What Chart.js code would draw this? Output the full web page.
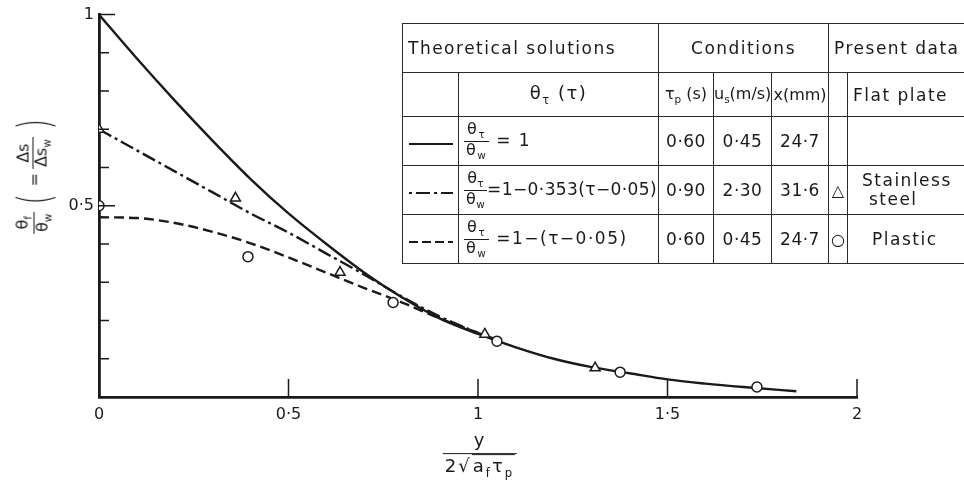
<!doctype html>
<html>

<head>
	<title>Flat plate temperature profile</title>
	<script src="https://cdn.jsdelivr.net/npm/chart.js@4.4.1/dist/chart.umd.min.js"></script>
	<style>
	body {
		margin: 0;
		background: #fff;
		font-family: "DejaVu Sans", sans-serif;
		color: #1a1a1a;
	}
	.wrap {
		position: relative;
		width: 964px;
		height: 489px;
		overflow: hidden;
	}
	canvas {
		position: absolute;
		left: 0;
		top: 0;
	}
	.frac {
		display: inline-flex;
		flex-direction: column;
		align-items: stretch;
		vertical-align: middle;
		line-height: 1.05;
		text-align: center;
	}
	.frac .num {
		border-bottom: 1.5px solid #1a1a1a;
		padding: 0 2px;
	}
	.frac .den {
		padding: 0 2px;
	}
	sub {
		font-size: 0.65em;
	}
	table.key {
		position: absolute;
		left: 402px;
		top: 23px;
		width: 620px;
		table-layout: fixed;
		border-collapse: collapse;
		font-size: 17px;
		letter-spacing: 1.5px;
	}
	table.key td {
		border: 1.5px solid #2a2a2a;
		padding: 0 2px;
		text-align: center;
		white-space: nowrap;
		overflow: hidden;
	}
	table.key td.left {
		text-align: left;
		padding-left: 5px;
	}
	table.key td.tight {
		letter-spacing: 0;
		padding: 0;
		font-size: 16px;
	}
	table.key td.num {
		font-size: 17px;
		letter-spacing: 0.5px;
	}
	table.key .fsm {
		font-size: 15px;
	}
	table.key .eq {
		font-size: 16px;
	}
	.ytitle {
		position: absolute;
		left: 34px;
		top: 175px;
		transform: translate(-50%, -50%) rotate(-90deg);
		white-space: nowrap;
		font-size: 16px;
		display: flex;
		align-items: center;
		gap: 4px;
	}
	.paren {
		font-size: 44px;
		font-weight: 200;
		transform: scaleX(0.6);
	}
	.xtitle {
		position: absolute;
		left: 480px;
		top: 455px;
		transform: translate(-50%, -50%);
		font-size: 18px;
		letter-spacing: 2px;
	}
	.root {
		border-top: 1.5px solid #1a1a1a;
		padding: 0 1px;
	}
	</style>
</head>

<body>
	<div class="wrap">
		<canvas id="chart" width="964" height="489"></canvas>

		<div class="ytitle">
			<span class="frac"><span class="num">θ<sub>f</sub></span><span class="den">θ<sub>w</sub></span></span>
			<span class="paren">(</span>
			<span>=</span>
			<span class="frac"><span class="num">Δs</span><span class="den">Δs<sub>w</sub></span></span>
			<span class="paren">)</span>
		</div>

		<div class="xtitle">
			<span class="frac"><span class="num" style="padding-bottom:3px">y</span><span class="den" style="padding-top:3px">2√<span class="root">a<sub>f</sub>τ<sub>p</sub></span></span></span>
		</div>

		<table class="key">
			<colgroup>
				<col style="width:56px">
				<col style="width:200px">
				<col style="width:55px">
				<col style="width:58px">
				<col style="width:57px">
				<col style="width:19px">
				<col style="width:175px">
			</colgroup>
			<tr style="height:49px">
				<td class="left" colspan="2">Theoretical solutions</td>
				<td colspan="3">Conditions</td>
				<td class="left" colspan="2">Present data</td>
			</tr>
			<tr style="height:44px">
				<td></td>
				<td style="font-size:18px">θ<sub>τ</sub> (τ)</td>
				<td class="tight">τ<sub>p</sub> (s)</td>
				<td class="tight">u<sub>s</sub>(m/s)</td>
				<td class="tight">x(mm)</td>
				<td></td>
				<td class="left">Flat plate</td>
			</tr>
			<tr style="height:49px">
				<td><svg width="44" height="6"><line x1="0" y1="3" x2="44" y2="3" stroke="#1a1a1a" stroke-width="2"/></svg></td>
				<td class="left"><span class="frac eq"><span class="num">θ<sub>τ</sub></span><span class="den">θ<sub>w</sub></span></span> = 1</td>
				<td class="num tight">0·60</td>
				<td class="num tight">0·45</td>
				<td class="num tight">24·7</td>
				<td></td>
				<td></td>
			</tr>
			<tr style="height:49px">
				<td><svg width="44" height="6"><line x1="0" y1="3" x2="44" y2="3" stroke="#1a1a1a" stroke-width="2" stroke-dasharray="3 4 14 4"/></svg></td>
				<td class="left" style="letter-spacing:0.4px"><span class="frac eq"><span class="num">θ<sub>τ</sub></span><span class="den">θ<sub>w</sub></span></span><span style="font-size:17px">=1−0·353(τ−0·05)</span></td>
				<td class="num tight">0·90</td>
				<td class="num tight">2·30</td>
				<td class="num tight">31·6</td>
				<td class="tight fsm">△</td>
				<td class="left" style="line-height:1.1;padding-left:14px">Stainless<br>&nbsp;steel</td>
			</tr>
			<tr style="height:49px">
				<td><svg width="44" height="6"><line x1="0" y1="3" x2="44" y2="3" stroke="#1a1a1a" stroke-width="2" stroke-dasharray="9 4"/></svg></td>
				<td class="left"><span class="frac eq"><span class="num">θ<sub>τ</sub></span><span class="den">θ<sub>w</sub></span></span> <span style="font-size:17px">=1−(τ−0·05)</span></td>
				<td class="num tight">0·60</td>
				<td class="num tight">0·45</td>
				<td class="num tight">24·7</td>
				<td class="tight fsm">○</td>
				<td class="left" style="padding-left:24px">Plastic</td>
			</tr>
		</table>
	</div>

	<script>
		// theoretical curves
		var solidX = [0, 0.1, 0.2, 0.3, 0.4, 0.5, 0.6, 0.7, 0.8, 0.9, 1.0, 1.1, 1.2, 1.3, 1.4, 1.5, 1.6, 1.7, 1.84];
		var solidY = [1.0, 0.885, 0.775, 0.67, 0.57, 0.48, 0.40, 0.325, 0.26, 0.205, 0.165, 0.13, 0.10, 0.078, 0.062, 0.046, 0.035, 0.026, 0.015];

		var steelX = [0, 0.1, 0.2, 0.3, 0.4, 0.5, 0.6, 0.7, 0.8, 0.9, 1.0, 1.05];
		var steelY = [0.70, 0.645, 0.59, 0.535, 0.48, 0.43, 0.375, 0.32, 0.262, 0.21, 0.168, 0.15];

		var plasticX = [0, 0.1, 0.2, 0.3, 0.4, 0.5, 0.6, 0.7, 0.8, 0.9, 1.0];
		var plasticY = [0.47, 0.468, 0.455, 0.432, 0.402, 0.365, 0.325, 0.285, 0.247, 0.205, 0.168];

		// measured points
		var triX = [0, 0.36, 0.636, 1.018, 1.309];
		var triY = [0.70, 0.52, 0.326, 0.164, 0.076];

		var circX = [0, 0.393, 0.776, 1.05, 1.375, 1.736];
		var circY = [0.50, 0.367, 0.247, 0.146, 0.065, 0.026];

		var xTicks = [0, 0.5, 1, 1.5, 2];
		var yLabels = [0.5, 1];

		function pts(xs, ys) {
			return xs.map(function(x, i) {
				return {x: x, y: ys[i]};
			});
		}

		function fmt(v) {
			return String(v).replace('.', '·');
		}

		var ink = '#1a1a1a';

		// ticks in this figure point into the plot
		var innerTicks = {
			id: 'innerTicks',
			afterDraw: function(chart) {
				var ctx = chart.ctx;
				var xs = chart.scales.x;
				var ys = chart.scales.y;
				var area = chart.chartArea;
				ctx.save();
				ctx.strokeStyle = ink;
				ctx.lineWidth = 1.5;
				ctx.beginPath();
				xTicks.forEach(function(v) {
					if (v === 0) return;
					var px = xs.getPixelForValue(v);
					ctx.moveTo(px, area.bottom);
					ctx.lineTo(px, area.bottom - 18);
				});
				for (var i = 1; i <= 10; i++) {
					var py = ys.getPixelForValue(i / 10);
					var len = (i === 5 || i === 10) ? 16 : 10;
					ctx.moveTo(area.left, py);
					ctx.lineTo(area.left + len, py);
				}
				ctx.stroke();
				ctx.restore();
			}
		};

		window.onload = function() {
			var ctx = document.getElementById('chart').getContext('2d');
			new Chart(ctx, {
				type: 'scatter',
				data: {
					datasets: [{
						label: 'Stainless steel',
						data: pts(triX, triY),
						pointStyle: 'triangle',
						pointRadius: 5.8,
						backgroundColor: '#fff',
						borderColor: ink,
						borderWidth: 1.5,
						order: 0
					}, {
						label: 'Plastic',
						data: pts(circX, circY),
						pointStyle: 'circle',
						pointRadius: 5,
						backgroundColor: '#fff',
						borderColor: ink,
						borderWidth: 1.5,
						order: 0
					}, {
						label: 'θτ/θw = 1',
						data: pts(solidX, solidY),
						showLine: true,
						borderColor: ink,
						borderWidth: 2.4,
						pointRadius: 0,
						cubicInterpolationMode: 'monotone',
						order: 1
					}, {
						label: 'θτ/θw = 1-0.353(τ-0.05)',
						data: pts(steelX, steelY),
						showLine: true,
						borderColor: ink,
						borderWidth: 2.4,
						borderDash: [14, 4, 3, 4],
						pointRadius: 0,
						cubicInterpolationMode: 'monotone',
						order: 1
					}, {
						label: 'θτ/θw = 1-(τ-0.05)',
						data: pts(plasticX, plasticY),
						showLine: true,
						borderColor: ink,
						borderWidth: 2.4,
						borderDash: [10, 5],
						pointRadius: 0,
						cubicInterpolationMode: 'monotone',
						order: 1
					}]
				},
				options: {
					responsive: false,
					animation: false,
					layout: {
						padding: {left: 0, top: 13, right: 107, bottom: 52}
					},
					plugins: {
						legend: {display: false},
						tooltip: {enabled: false}
					},
					scales: {
						x: {
							type: 'linear',
							min: 0,
							max: 2,
							afterFit: function(s) { s.height = 40; },
							afterBuildTicks: function(s) {
								s.ticks = xTicks.map(function(v) { return {value: v}; });
							},
							grid: {display: true, drawOnChartArea: false, drawTicks: false},
							border: {display: true, color: ink, width: 2.8},
							ticks: {
								padding: 8,
								color: ink,
								font: {family: 'DejaVu Sans', size: 16},
								callback: function(v) { return fmt(v); }
							}
						},
						y: {
							type: 'linear',
							min: 0,
							max: 1,
							afterFit: function(s) { s.width = 99; },
							afterBuildTicks: function(s) {
								s.ticks = yLabels.map(function(v) { return {value: v}; });
							},
							grid: {display: true, drawOnChartArea: false, drawTicks: false},
							border: {display: true, color: ink, width: 2.8},
							ticks: {
								padding: 5,
								color: ink,
								font: {family: 'DejaVu Sans', size: 16},
								callback: function(v) { return fmt(v); }
							}
						}
					}
				},
				plugins: [innerTicks]
			});
		};
	</script>
</body>

</html>
